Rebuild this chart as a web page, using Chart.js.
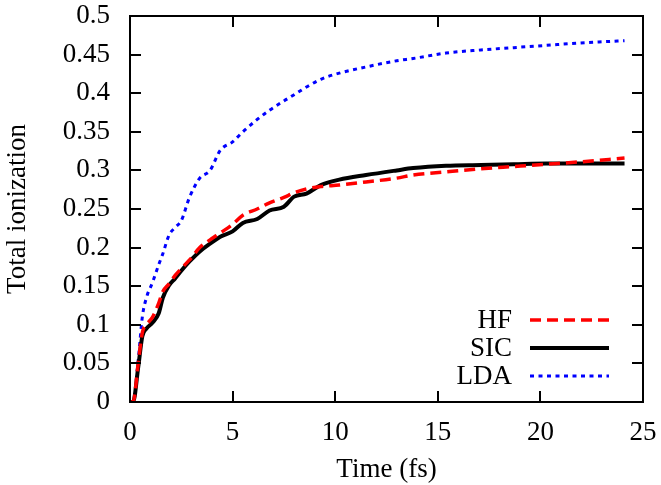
<!DOCTYPE html>
<html>
<head>
<meta charset="utf-8">
<script src="https://cdn.jsdelivr.net/npm/chart.js@4.4.0/dist/chart.umd.min.js"></script>
<style>
  html, body { margin: 0; padding: 0; background: #fff; }
  #wrap { width: 661px; height: 485px; }
</style>
</head>
<body>
<div id="wrap"><canvas id="ionChart" width="661" height="485"></canvas></div>
<script>
// values
var timeFs = [0, 0.15, 0.4, 0.6, 0.8, 1.1, 1.4, 1.6, 1.9, 2.2, 2.5, 2.9, 3.4, 3.9, 4.4, 5.0, 5.5, 6.2, 6.8, 7.5, 8.0, 8.6, 9.3, 10.2, 11.5, 13.0, 13.8, 15.4, 17.1, 18.7, 20.3, 21.9, 24.1];
var hfValues = [0, 0, 0.05, 0.09, 0.1, 0.11, 0.128, 0.143, 0.153, 0.164, 0.173, 0.184, 0.2, 0.21, 0.219, 0.23, 0.242, 0.25, 0.258, 0.265, 0.271, 0.276, 0.279, 0.281, 0.285, 0.29, 0.294, 0.298, 0.302, 0.305, 0.308, 0.311, 0.316];
var sicValues = [0, 0, 0.045, 0.085, 0.095, 0.103, 0.115, 0.135, 0.151, 0.16, 0.17, 0.182, 0.195, 0.205, 0.214, 0.221, 0.232, 0.237, 0.248, 0.253, 0.266, 0.27, 0.281, 0.288, 0.294, 0.3, 0.303, 0.306, 0.307, 0.308, 0.309, 0.309, 0.309];
var ldaValues = [0, 0, 0.054, 0.11, 0.135, 0.155, 0.178, 0.192, 0.216, 0.226, 0.235, 0.265, 0.29, 0.3, 0.326, 0.337, 0.35, 0.366, 0.378, 0.39, 0.398, 0.408, 0.418, 0.426, 0.434, 0.442, 0.445, 0.452, 0.456, 0.459, 0.462, 0.465, 0.468];
var seriesNames = ['HF', 'SIC', 'LDA'];
var xTickValues = [0, 5, 10, 15, 20, 25];
var yTickValues = [0, 0.05, 0.1, 0.15, 0.2, 0.25, 0.3, 0.35, 0.4, 0.45, 0.5];

var FONT = '"Liberation Serif", "DejaVu Serif", serif';

function toPoints(vals) {
    return timeFs.map(function(t, i) { return { x: t, y: vals[i] }; });
}

// keep the plot box where the reference has it
function noEdgePadding(scale) {
    scale.paddingLeft = 0;
    scale.paddingRight = 0;
    scale.paddingTop = 0;
    scale.paddingBottom = 0;
}

// inward ticks on all sides, frame, and gnuplot-like legend
var framePlugin = {
    id: 'frame',
    afterDraw: function(chart) {
        var ctx = chart.ctx;
        var a = chart.chartArea;
        var xs = chart.scales.x, ys = chart.scales.y;
        ctx.save();
        ctx.strokeStyle = '#000';
        ctx.lineWidth = 2;
        ctx.setLineDash([]);
        ctx.beginPath();
        xTickValues.forEach(function(v) {
            var px = Math.round(xs.getPixelForValue(v));
            ctx.moveTo(px, a.bottom); ctx.lineTo(px, a.bottom - 11);
            ctx.moveTo(px, a.top); ctx.lineTo(px, a.top + 11);
        });
        yTickValues.forEach(function(v) {
            var py = Math.round(ys.getPixelForValue(v));
            ctx.moveTo(a.left, py); ctx.lineTo(a.left + 11, py);
            ctx.moveTo(a.right, py); ctx.lineTo(a.right - 11, py);
        });
        ctx.stroke();
        ctx.strokeRect(a.left, a.top, a.right - a.left, a.bottom - a.top);

        // legend
        ctx.font = '27px ' + FONT;
        ctx.textAlign = 'right';
        ctx.textBaseline = 'middle';
        chart.data.datasets.forEach(function(ds, i) {
            var yy = 320 + i * 28;
            ctx.fillStyle = '#000';
            ctx.fillText(ds.label, 512, yy + 1);
            ctx.strokeStyle = ds.borderColor;
            ctx.lineWidth = ds.borderWidth;
            ctx.setLineDash(ds.borderDash || []);
            ctx.beginPath();
            ctx.moveTo(530, yy);
            ctx.lineTo(609, yy);
            ctx.stroke();
        });
        ctx.restore();
    }
};

var ctx = document.getElementById('ionChart').getContext('2d');
var ionChart = new Chart(ctx, {
    type: 'line',
    data: {
        datasets: [
            { label: seriesNames[0], data: toPoints(hfValues), borderColor: '#ff0000', borderWidth: 3.5, borderDash: [11, 6] },
            { label: seriesNames[1], data: toPoints(sicValues), borderColor: '#000000', borderWidth: 4 },
            { label: seriesNames[2], data: toPoints(ldaValues), borderColor: '#0000ff', borderWidth: 3, borderDash: [4, 4.5] }
        ]
    },
    options: {
        responsive: false,
        animation: false,
        layout: { padding: { top: 16, right: 18, left: 0, bottom: 0 } },
        elements: {
            point: { radius: 0 },
            line: { cubicInterpolationMode: 'monotone', fill: false }
        },
        plugins: {
            legend: { display: false },
            tooltip: { enabled: false }
        },
        scales: {
            x: {
                type: 'linear',
                min: 0, max: 25,
                afterBuildTicks: function(scale) {
                    scale.ticks = xTickValues.map(function(v) { return { value: v }; });
                },
                afterFit: function(scale) { scale.height = 83; noEdgePadding(scale); },
                grid: { display: false, drawTicks: false },
                border: { display: false },
                ticks: { color: '#000', padding: 15, maxRotation: 0, font: { family: FONT, size: 27 } },
                title: { display: true, text: 'Time (fs)', color: '#000', padding: 0, font: { family: FONT, size: 27, lineHeight: 1.1 } }
            },
            y: {
                type: 'linear',
                min: 0, max: 0.5,
                afterBuildTicks: function(scale) {
                    scale.ticks = yTickValues.map(function(v) { return { value: v }; });
                },
                afterFit: function(scale) { scale.width = 130; noEdgePadding(scale); },
                grid: { display: false, drawTicks: false },
                border: { display: false },
                ticks: {
                    color: '#000', padding: 20, font: { family: FONT, size: 27 },
                    callback: function(v) { return String(v); }
                },
                title: { display: true, text: 'Total ionization', color: '#000', padding: { top: 3, bottom: 0 }, font: { family: FONT, size: 27, lineHeight: 1.1 } }
            }
        }
    },
    plugins: [framePlugin]
});
</script>
</body>
</html>
